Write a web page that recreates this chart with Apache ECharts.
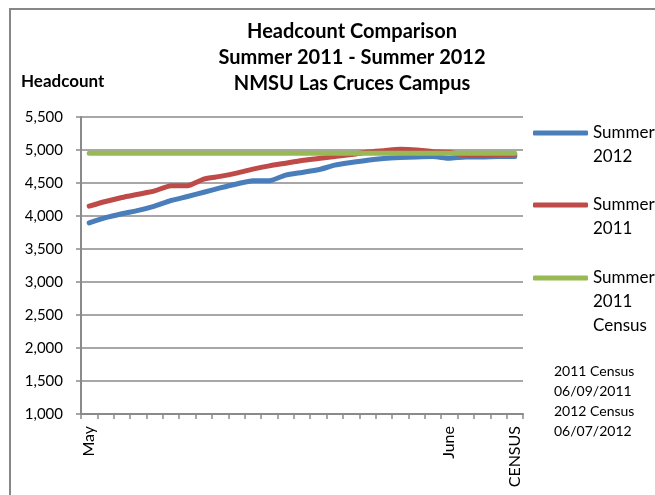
<!DOCTYPE html>
<html>
<head>
<meta charset="utf-8">
<script src="https://cdn.jsdelivr.net/npm/echarts@6/dist/echarts.min.js"></script>
<style>
  html, body { margin: 0; padding: 0; background: #fff; }
  #chart { width: 655px; height: 495px; }
</style>
</head>
<body>
<div id="chart"></div>
<script>
// 27 days on the category axis, only three of them labelled
const dayLabels = [
  "May", "", "", "", "", "", "", "", "", "", "", "", "", "",
  "", "", "", "", "", "", "", "", "June", "", "", "", "CENSUS"
];

const summer2012 = [
  3895, 3975, 4035, 4085, 4150, 4235, 4295, 4360, 4425, 4485,
  4535, 4535, 4620, 4660, 4700, 4770, 4810, 4845, 4870, 4885,
  4895, 4900, 4875, 4895, 4895, 4900, 4900
];

const summer2011 = [
  4150, 4220, 4280, 4330, 4380, 4460, 4460, 4560, 4600, 4650,
  4710, 4760, 4800, 4840, 4870, 4900, 4930, 4970, 4990, 5010,
  5000, 4975, 4965, 4920, 4915, 4930, 4935
];

const census2011 = [
  4950, 4950, 4950, 4950, 4950, 4950, 4950, 4950, 4950, 4950,
  4950, 4950, 4950, 4950, 4950, 4950, 4950, 4950, 4950, 4950,
  4950, 4950, 4950, 4950, 4950, 4950, 4950
];

const seriesNames = ["Summer\n2012", "Summer\n2011", "Summer\n2011\nCensus"];
const censusNote = "2011 Census\n06/09/2011\n2012 Census\n06/07/2012";

const chart = echarts.init(document.getElementById("chart"));
const font = "Lato, 'Open Sans', sans-serif";
const gray = "#8a8a8a";

function legendFor(name, iconY, lines) {
  // blank lines above the name so the first real line sits beside the icon
  const blanks = "\n".repeat(lines - 1);
  const total = lines * 2 - 1;
  return {
    data: [name],
    orient: "vertical",
    left: 533,
    top: iconY - (total * 24) / 2,
    padding: 0,
    icon: "roundRect",
    itemWidth: 55,
    itemHeight: 5,
    itemGap: 0,
    formatter: (n) => blanks + n,
    textStyle: {
      fontFamily: font,
      fontSize: 17,
      color: "#000",
      lineHeight: 24,
    },
  };
}

chart.setOption({
  animation: false,
  textStyle: { fontFamily: font },
  title: [
    {
      text: "Headcount Comparison\nSummer 2011 - Summer 2012\nNMSU Las Cruces Campus",
      left: 352,
      top: 19,
      padding: 0,
      textAlign: "center",
      textStyle: {
        fontFamily: font,
        fontSize: 20,
        fontWeight: "bold",
        color: "#000",
        lineHeight: 26,
      },
    },
    {
      text: "Headcount",
      left: 21,
      top: 73,
      padding: 0,
      textStyle: { fontFamily: font, fontSize: 17, fontWeight: "bold", color: "#000" },
    },
  ],
  legend: [
    legendFor(seriesNames[0], 133, 2),
    legendFor(seriesNames[1], 205, 2),
    legendFor(seriesNames[2], 278, 3),
  ],
  graphic: [
    {
      type: "rect",
      shape: { x: 10, y: 9, width: 700, height: 600 },
      style: { fill: "none", stroke: "#878787", lineWidth: 2 },
      silent: true,
    },
    {
      type: "text",
      left: 554,
      top: 361,
      style: {
        text: censusNote,
        font: "14px " + font,
        fill: "#000",
        lineHeight: 20,
      },
    },
  ],
  grid: { left: 81, right: 132, top: 117, bottom: 81, containLabel: false },
  xAxis: {
    type: "category",
    data: dayLabels,
    boundaryGap: true,
    axisLine: { lineStyle: { color: gray, width: 2 } },
    axisTick: { show: true, interval: 0, length: 5, lineStyle: { color: gray, width: 1.5 } },
    axisLabel: {
      interval: 0,
      rotate: 90,
      fontSize: 16,
      color: "#000",
      margin: 12,
      fontFamily: font,
    },
    splitLine: { show: false },
  },
  yAxis: {
    type: "value",
    min: 1000,
    max: 5500,
    interval: 500,
    axisLine: { show: true, lineStyle: { color: gray, width: 2 } },
    axisTick: { show: true, length: 5, lineStyle: { color: gray, width: 1.5 } },
    axisLabel: {
      fontSize: 15,
      color: "#000",
      margin: 18,
      fontFamily: font,
      formatter: (v) => v.toLocaleString("en-US"),
    },
    splitLine: { lineStyle: { color: gray, width: 1.5 } },
  },
  series: [
    {
      name: seriesNames[0],
      type: "line",
      data: summer2012,
      symbol: "none",
      smooth: 0.2,
      lineStyle: { color: "#4a7ebb", width: 5, cap: "round", join: "round" },
      itemStyle: { color: "#4a7ebb" },
    },
    {
      name: seriesNames[1],
      type: "line",
      data: summer2011,
      symbol: "none",
      smooth: 0.2,
      lineStyle: { color: "#be4b48", width: 5, cap: "round", join: "round" },
      itemStyle: { color: "#be4b48" },
    },
    {
      name: seriesNames[2],
      type: "line",
      data: census2011,
      symbol: "none",
      lineStyle: { color: "#98b954", width: 5, cap: "round" },
      itemStyle: { color: "#98b954" },
    },
  ],
});
</script>
</body>
</html>
